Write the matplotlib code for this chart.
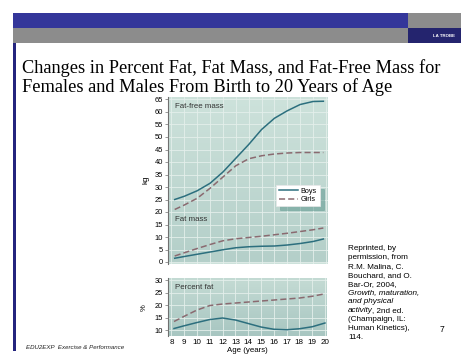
import numpy as np
import matplotlib
matplotlib.use("Agg")
from matplotlib import pyplot as plt
from matplotlib.patches import Rectangle

# values
ages_mass = [8.25, 9, 10, 11, 12, 13, 14, 15, 16, 17, 18, 19, 19.8]
boys_ffm = [25, 26.3, 28.5, 31.5, 36, 41.5, 47, 53, 57.5, 60.5, 63, 64.2, 64.3]
girls_ffm = [21, 22.8, 25.5, 29.5, 34, 38.5, 41.3, 42.5, 43.2, 43.6, 43.8, 43.8, 43.8]
boys_fm = [1.5, 2.2, 3.1, 4.0, 4.9, 5.7, 6.1, 6.3, 6.4, 6.8, 7.4, 8.2, 9.2]
girls_fm = [2.4, 3.7, 5.4, 7.0, 8.5, 9.3, 9.8, 10.3, 10.9, 11.5, 12.2, 12.9, 13.6]

ages_pct = [8.2, 9, 10, 11, 12, 13, 14, 15, 16, 17, 18, 19, 20]
boys_pct = [10.6, 11.7, 13.0, 14.2, 14.8, 14.0, 12.6, 11.2, 10.3, 10.1, 10.5, 11.3, 12.8]
girls_pct = [13.4, 15.5, 18.0, 19.8, 20.4, 20.8, 21.2, 21.6, 22.0, 22.4, 22.8, 23.5, 24.5]

kg_ticks = list(range(0, 70, 5))
pct_ticks = [10, 15, 20, 25, 30]
age_ticks = list(range(8, 21))

citation = ["Reprinted, by", "permission, from", "R.M. Malina, C.", "Bouchard, and O.",
            "Bar-Or, 2004,", "Growth, maturation,", "and physical", "activity", "(Champaign, IL:",
            "Human Kinetics),", "114."]

W, H = 474, 355
BOYS = "#2c6f7e"
GIRLS = "#8a6a70"
SANS = ["Liberation Sans", "DejaVu Sans"]
SERIF = ["Liberation Serif", "DejaVu Serif"]


def fx(px):
    return px / W


def fy(py):
    return 1 - py / H


def rect(fig, x0, y0, x1, y1, color):
    fig.patches.append(Rectangle((fx(x0), fy(y1)), fx(x1) - fx(x0), fy(y0) - fy(y1),
                                 transform=fig.transFigure, color=color, lw=0, zorder=0))


def panel(fig, x0, y0, x1, y1, top_col, bot_col):
    ax = fig.add_axes([fx(x0), fy(y1), fx(x1) - fx(x0), fy(y0) - fy(y1)])
    c0 = np.array(matplotlib.colors.to_rgb(top_col))
    c1 = np.array(matplotlib.colors.to_rgb(bot_col))
    t = np.linspace(0, 1, 64)[:, None]
    grad = (c0 * (1 - t) + c1 * t)[:, None, :]
    ax.imshow(grad, extent=[0, 1, 0, 1], transform=ax.transAxes, aspect="auto", zorder=0)
    ax.set_facecolor(top_col)
    for s in ["top", "right", "bottom"]:
        ax.spines[s].set_visible(False)
    ax.spines["left"].set_color("#707070")
    ax.spines["left"].set_linewidth(0.8)
    ax.set_xlim(7.73, 20.16)
    ax.grid(True, color="#e4efeb", lw=0.6, zorder=1)
    ax.set_axisbelow(True)
    ax.tick_params(labelsize=5.4, length=2, width=0.5, color="#707070", pad=1.5)
    for lab in ax.get_xticklabels() + ax.get_yticklabels():
        lab.set_family(SANS)
    return ax


fig = plt.figure(figsize=(4.74, 3.55), dpi=100)
fig.patch.set_facecolor("white")

# slide header
rect(fig, 13, 13, 408, 28, "#34369a")
rect(fig, 13, 28, 408, 43, "#8c8c8c")
rect(fig, 408, 13, 461, 28, "#8c8c8c")
rect(fig, 408, 28, 461, 43, "#24246e")
rect(fig, 13, 43, 15.5, 351, "#24247e")
fig.text(fx(444), fy(36), "LA TROBE", color="white", fontsize=3.2, fontweight="bold",
         ha="center", va="center", family=SANS)

fig.text(fx(22), fy(73), "Changes in Percent Fat, Fat Mass, and Fat-Free Mass for",
         fontsize=13.2, family=SERIF, va="baseline")
fig.text(fx(22), fy(91.5), "Females and Males From Birth to 20 Years of Age",
         fontsize=13.2, family=SERIF, va="baseline")

# upper panel: fat-free mass and fat mass
ax1 = panel(fig, 168, 97, 328, 263.5, "#cde2db", "#b4cfc9")
ax1.set_ylim(-0.6, 66)
ax1.set_yticks(kg_ticks)
ax1.set_xticks(age_ticks)
ax1.tick_params(axis="x", bottom=False, labelbottom=False)
ax1.plot(ages_mass, boys_ffm, color=BOYS, lw=1.1, label="Boys", zorder=3)
ax1.plot(ages_mass, girls_ffm, color=GIRLS, lw=1.1, ls=(0, (4, 2)), label="Girls", zorder=3)
ax1.plot(ages_mass, boys_fm, color=BOYS, lw=1.1, zorder=3)
ax1.plot(ages_mass, girls_fm, color=GIRLS, lw=1.1, ls=(0, (4, 2)), zorder=3)
ax1.set_ylabel("kg", fontsize=5.8, family=SANS, labelpad=4)
ax1.text(8.3, 62, "Fat-free mass", fontsize=5.7, family=SANS, color="#333333", va="center")
ax1.text(8.3, 17, "Fat mass", fontsize=5.7, family=SANS, color="#333333", va="center")
leg = ax1.legend(loc="upper left", bbox_to_anchor=(fx(272), fy(181)),
                 bbox_transform=fig.transFigure, fontsize=5.2, frameon=True, fancybox=False,
                 handlelength=2.6, handletextpad=0.4, borderpad=0.45, labelspacing=0.15,
                 shadow={"color": "#4a8a82", "alpha": 0.45, "ox": 3, "oy": -3})
leg.get_frame().set_edgecolor("#e8e8e8")
leg.get_frame().set_linewidth(0.5)
for t in leg.get_texts():
    t.set_family(SANS)

# lower panel: percent fat
ax2 = panel(fig, 168, 278.3, 327, 336, "#c4dbd4", "#a8c6c1")
ax2.set_ylim(7.6, 30.7)
ax2.set_yticks(pct_ticks)
ax2.set_xticks(age_ticks)
ax2.tick_params(axis="x", length=0, labelsize=5.8, pad=2.5)
ax2.plot(ages_pct, boys_pct, color=BOYS, lw=1.1, zorder=3)
ax2.plot(ages_pct, girls_pct, color=GIRLS, lw=1.1, ls=(0, (4, 2)), zorder=3)
ax2.set_ylabel("%", fontsize=5.5, family=SANS, labelpad=5)
ax2.set_xlabel("Age (years)", fontsize=5.7, family=SANS, labelpad=0.3)
ax2.text(8.3, 27.2, "Percent fat", fontsize=5.7, family=SANS, color="#333333", va="center")

# citation at the right
renderer = fig.canvas.get_renderer()
y = 250
for i, line in enumerate(citation):
    style = "italic" if i in (5, 6, 7) else "normal"
    t = fig.text(fx(348), fy(y), line, fontsize=5.9, family=SANS, style=style, va="baseline")
    if line == "activity":
        bb = t.get_window_extent(renderer)
        fig.text(fx(bb.x1 - 1), fy(y), ", 2nd ed.", fontsize=5.9, family=SANS,
                 va="baseline")
    y += 8.9
fig.text(fx(440), fy(332), "7", fontsize=6.2, family=SANS, va="baseline")

fig.text(fx(26), fy(349), "EDU2EXP  Exercise & Performance", fontsize=4.4, family=SANS,
         style="italic", va="baseline", color="#222222")

fig.savefig("out.png", dpi=100)
